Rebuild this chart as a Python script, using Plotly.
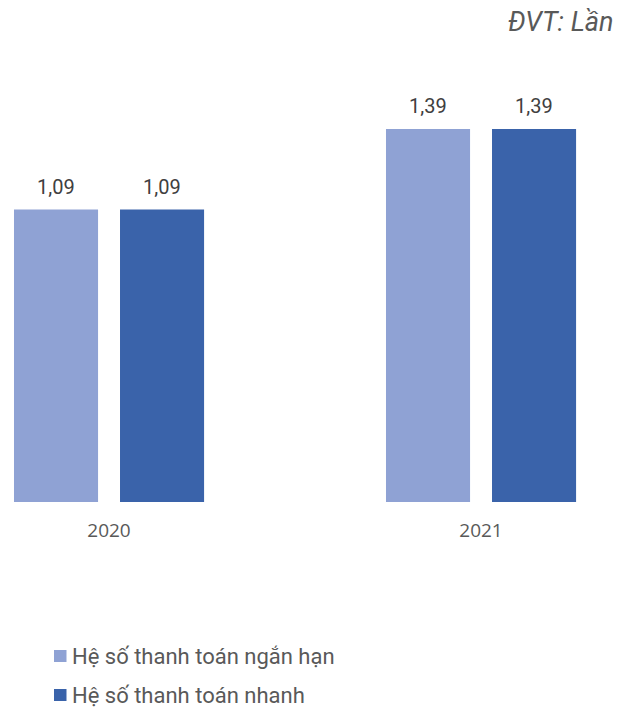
import plotly.graph_objects as go

# Liquidity ratios by year (unit: times)
years = ["2020", "2021"]
current_ratio = [1.09, 1.39]
quick_ratio = [1.09, 1.39]
series_names = ["Hệ số thanh toán ngắn hạn", "Hệ số thanh toán nhanh"]
colors = ["#8FA2D4", "#3A63AA"]

x_pos = list(range(len(years)))
bar_w = 0.226
offsets = [-0.2554, 0.0296]
series = [current_ratio, quick_ratio]

# figure geometry (pixels) used to place paper-referenced items
W, H = 630, 707
M_T, M_B = 60, 205
PLOT_H = H - M_T - M_B


def py_to_paper(py):
    return (H - M_B - py) / PLOT_H


fig = go.Figure()
annotations = []
for name, vals, col, off in zip(series_names, series, colors, offsets):
    fig.add_trace(go.Bar(
        x=x_pos, y=vals, name=name, width=bar_w, offset=off,
        marker=dict(color=col, line=dict(width=0)),
        showlegend=False,
    ))
    # value labels above each bar
    for xi, v in zip(x_pos, vals):
        annotations.append(dict(
            x=xi + off + bar_w / 2, y=v, xref="x", yref="y",
            text=f"{v:.2f}".replace(".", ","), showarrow=False,
            yanchor="bottom", yshift=9,
            font=dict(family="Roboto", size=20, color="#404040"),
        ))

# legend: colour swatch + series name
shapes = []
legend_y = [656, 695]
for name, col, ly in zip(series_names, colors, legend_y):
    shapes.append(dict(
        type="rect", xref="paper", yref="paper", line=dict(width=0), fillcolor=col,
        x0=54 / W, x1=66.5 / W, y0=py_to_paper(ly + 6), y1=py_to_paper(ly - 6),
    ))
    annotations.append(dict(
        text=name, xref="paper", yref="paper", x=70 / W, y=py_to_paper(ly),
        xanchor="left", yanchor="middle", showarrow=False,
        font=dict(family="Roboto", size=22, color="#595959"),
    ))

annotations.append(dict(
    text="<i>ĐVT: Lần</i>", xref="paper", yref="paper", x=616 / W, y=py_to_paper(22),
    xanchor="right", yanchor="middle", showarrow=False,
    font=dict(family="Roboto", size=27, color="#595959"),
))

fig.update_layout(
    width=W, height=H,
    margin=dict(l=0, r=0, t=M_T, b=M_B),
    paper_bgcolor="white", plot_bgcolor="white",
    showlegend=False,
    xaxis=dict(
        range=[-109 / 372, 521 / 372], tickmode="array", tickvals=x_pos, ticktext=years,
        showgrid=False, zeroline=False, showline=False, ticks="",
        ticklabelstandoff=15,
        tickfont=dict(family="Open Sans", size=19, color="#595959"),
    ),
    yaxis=dict(range=[0, PLOT_H / 268.3], visible=False),
    annotations=annotations,
    shapes=shapes,
)

fig.write_html("out.html")
